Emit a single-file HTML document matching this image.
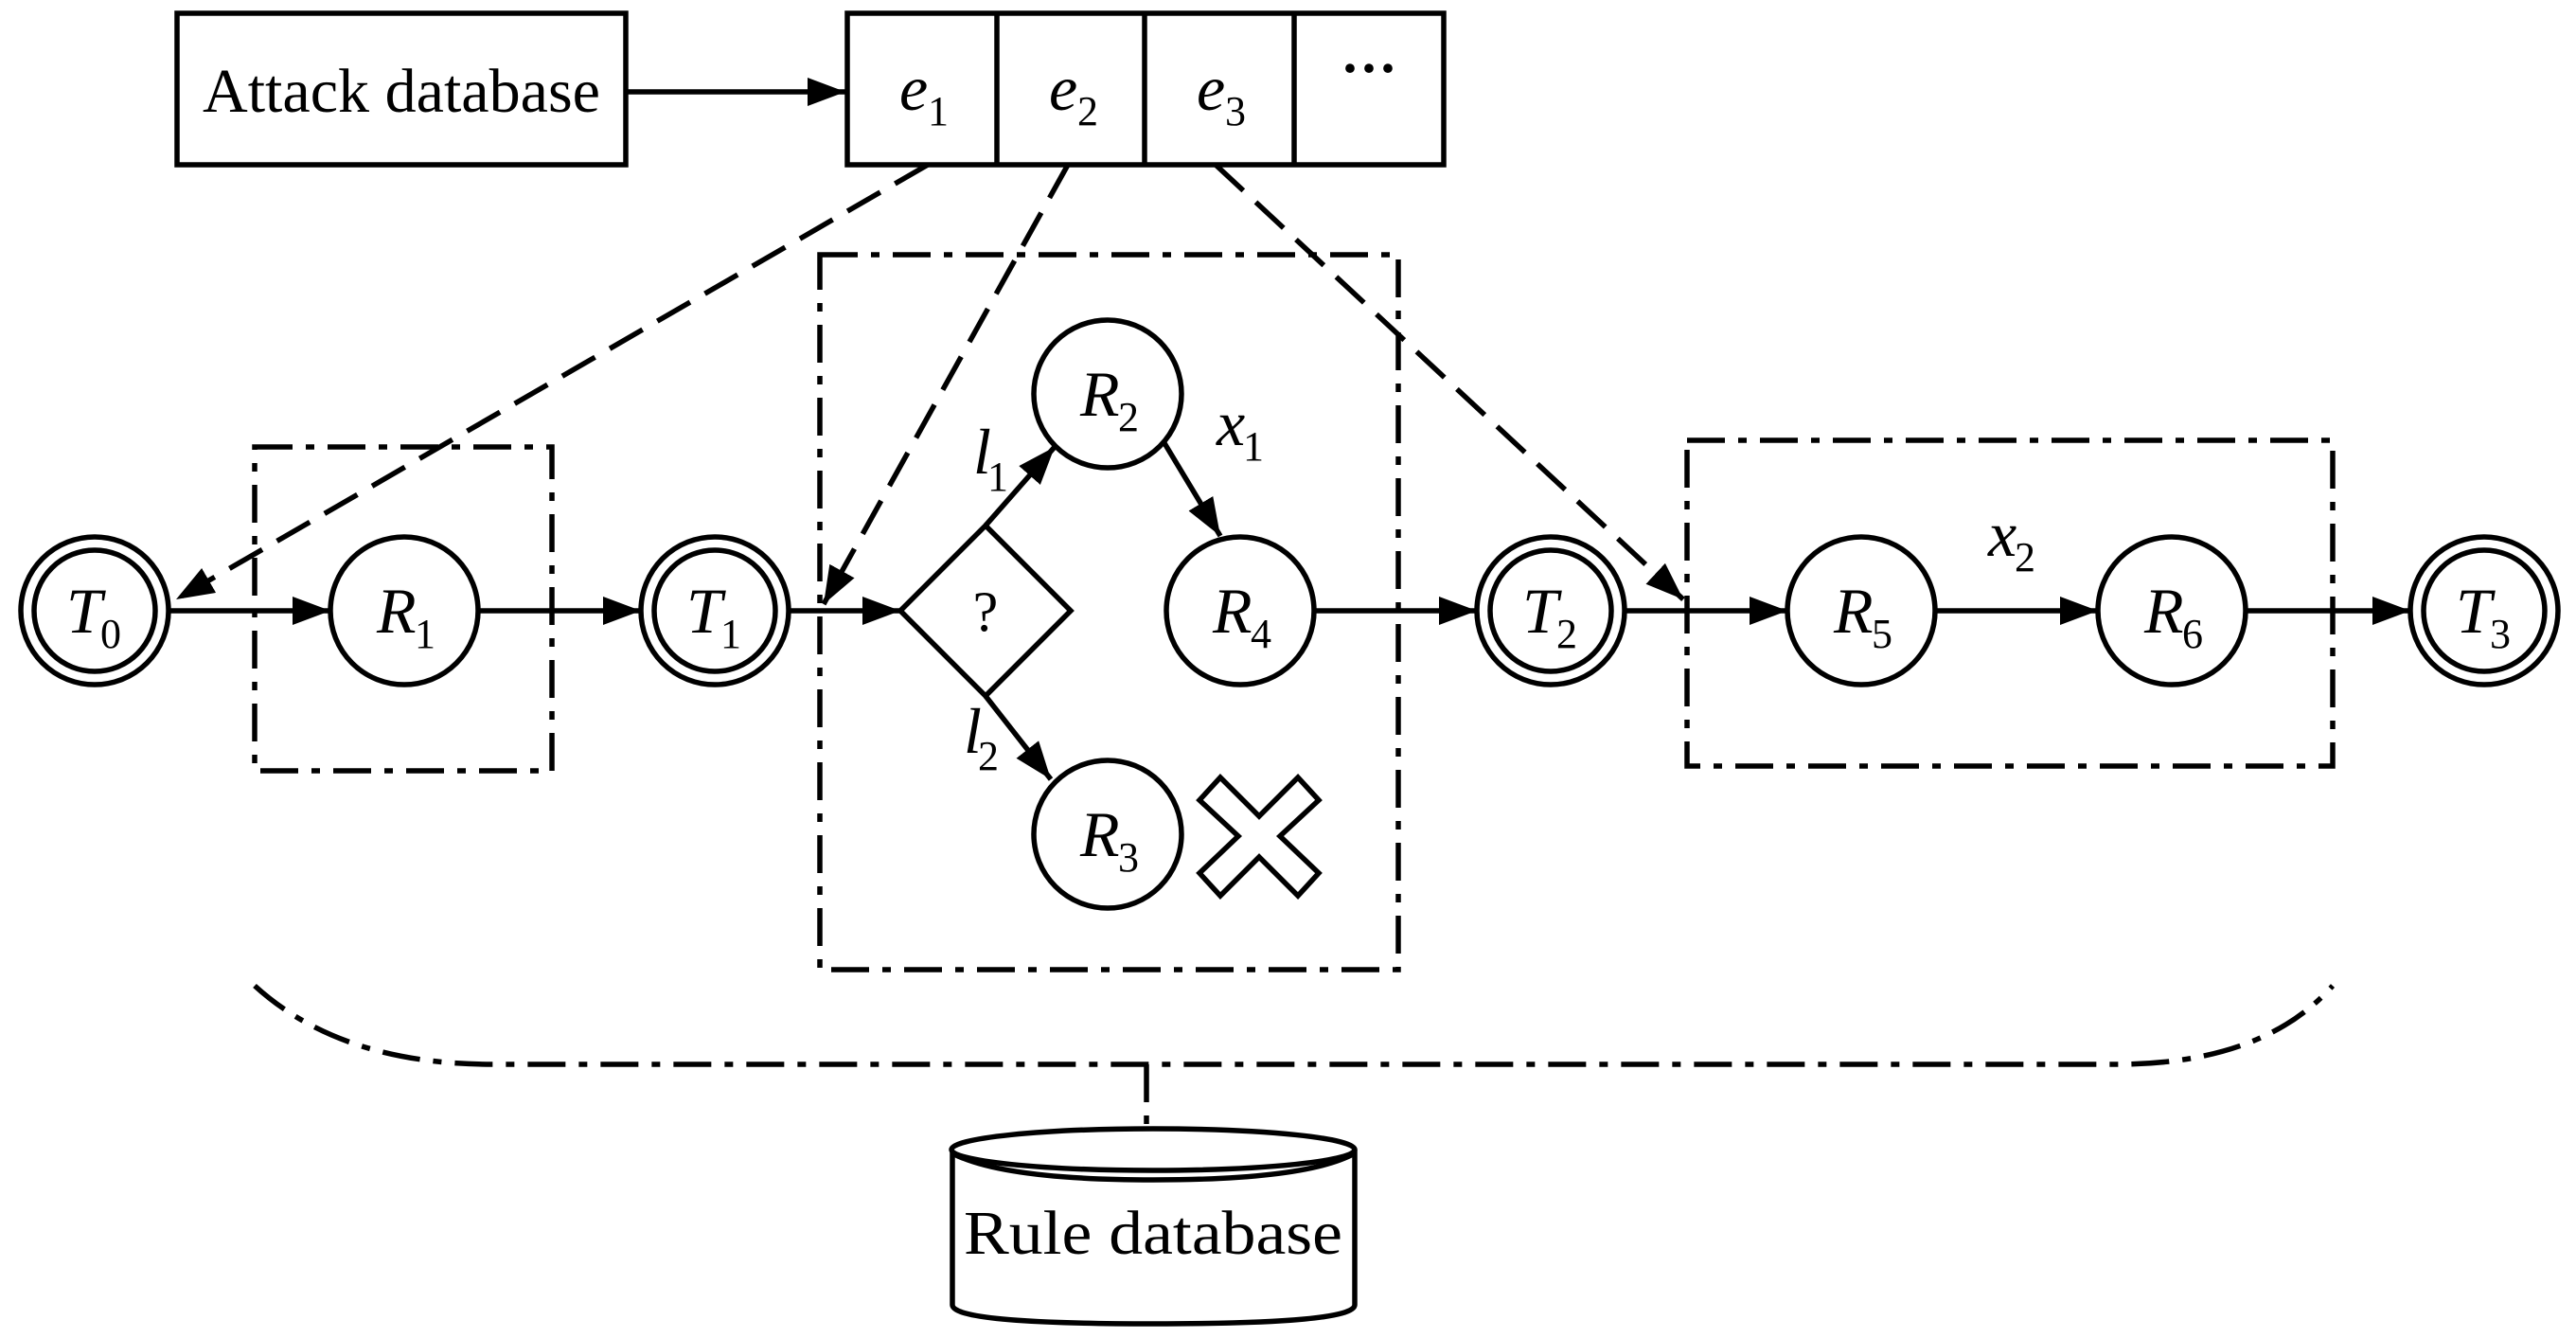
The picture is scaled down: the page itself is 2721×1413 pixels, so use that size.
<!DOCTYPE html>
<html><head><meta charset="utf-8"><style>
html,body{margin:0;padding:0;background:#fff;}
svg{display:block;}
text{font-family:"Liberation Serif",serif;fill:#000;}
</style></head><body>
<svg width="2721" height="1413" viewBox="0 0 2721 1413" xmlns="http://www.w3.org/2000/svg">
<defs>
<marker id="a" viewBox="0 0 10 10" refX="10" refY="5" markerWidth="40" markerHeight="30" markerUnits="userSpaceOnUse" orient="auto" preserveAspectRatio="none">
<path d="M0,0 L10,5 L0,10 z" fill="#000"/></marker>
</defs>
<g stroke="#000" stroke-width="5.5" fill="none">
<rect x="187" y="14" width="474" height="160"/>
<rect x="895" y="14" width="630" height="160"/>
<line x1="1053" y1="14" x2="1053" y2="174"/>
<line x1="1209" y1="14" x2="1209" y2="174"/>
<line x1="1367" y1="14" x2="1367" y2="174"/>
<line x1="661" y1="97" x2="893" y2="97" marker-end="url(#a)"/>
<g stroke-dasharray="40,14,9,14">
<rect x="269" y="472" width="314" height="342"/>
<rect x="866" y="269" width="611" height="755"/>
<rect x="1782" y="465" width="682" height="344"/>
<path d="M269,1041 Q360,1124 520,1124 L2235,1124 Q2390,1124 2464,1041"/>
<line x1="1211" y1="1124" x2="1211" y2="1200"/>
</g>
<line x1="178" y1="645" x2="349" y2="645" marker-end="url(#a)"/>
<line x1="505" y1="645" x2="677" y2="645" marker-end="url(#a)"/>
<line x1="833" y1="645" x2="951" y2="645" marker-end="url(#a)"/>
<line x1="1388" y1="645" x2="1560" y2="645" marker-end="url(#a)"/>
<line x1="1716" y1="645" x2="1888" y2="645" marker-end="url(#a)"/>
<line x1="2044" y1="645" x2="2216" y2="645" marker-end="url(#a)"/>
<line x1="2372" y1="645" x2="2546" y2="645" marker-end="url(#a)"/>
<polygon points="951,645 1041,555 1131,645 1041,735" fill="#fff"/>
<line x1="1041" y1="555" x2="1114" y2="472" marker-end="url(#a)"/>
<line x1="1041" y1="735" x2="1110" y2="823" marker-end="url(#a)"/>
<line x1="1230" y1="468" x2="1289" y2="566" marker-end="url(#a)"/>
<g fill="#fff">
<circle cx="100" cy="645" r="78"/><circle cx="100" cy="645" r="64"/>
<circle cx="427" cy="645" r="78"/>
<circle cx="755" cy="645" r="78"/><circle cx="755" cy="645" r="64"/>
<circle cx="1170" cy="416" r="78"/>
<circle cx="1310" cy="645" r="78"/>
<circle cx="1170" cy="881" r="78"/>
<circle cx="1638" cy="645" r="78"/><circle cx="1638" cy="645" r="64"/>
<circle cx="1966" cy="645" r="78"/>
<circle cx="2294" cy="645" r="78"/>
<circle cx="2624" cy="645" r="78"/><circle cx="2624" cy="645" r="64"/>
</g>
<path d="M1267,845 L1289,821 L1330,862 L1371,821 L1393,845 L1352,883 L1393,922 L1371,946 L1330,905 L1289,946 L1267,922 L1308,883 Z" fill="#fff"/>
<g stroke-dasharray="40,18">
<line x1="980" y1="174" x2="186" y2="633" marker-end="url(#a)"/>
<line x1="1128" y1="174" x2="870" y2="638" marker-end="url(#a)"/>
<line x1="1284" y1="174" x2="1778" y2="633" marker-end="url(#a)"/>
</g>
<path d="M1006,1214 L1006,1378 Q1006,1398 1218,1398 Q1431,1398 1431,1378 L1431,1214" fill="#fff"/>
<ellipse cx="1218" cy="1214" rx="213" ry="22" fill="#fff"/>
<path d="M1006,1218 Q1060,1246 1218,1246 Q1380,1246 1431,1218"/>
</g>
<g font-size="66">
<text x="424" y="118" text-anchor="middle" textLength="420" lengthAdjust="spacingAndGlyphs">Attack database</text>
<text x="1218" y="1324" text-anchor="middle" textLength="400" lengthAdjust="spacingAndGlyphs">Rule database</text>
</g>
<text x="1446" y="92" text-anchor="middle" font-size="60" font-weight="bold">···</text>
<g font-size="68" font-style="italic">
<text x="950" y="116">e</text><text x="980" y="132" font-size="44" font-style="normal">1</text>
<text x="1108" y="116">e</text><text x="1138" y="132" font-size="44" font-style="normal">2</text>
<text x="1264" y="116">e</text><text x="1294" y="132" font-size="44" font-style="normal">3</text>
<text x="70" y="668">T</text><text x="106" y="684" font-size="44" font-style="normal">0</text>
<text x="398" y="668">R</text><text x="438" y="684" font-size="44" font-style="normal">1</text>
<text x="725" y="668">T</text><text x="761" y="684" font-size="44" font-style="normal">1</text>
<text x="1141" y="439">R</text><text x="1181" y="455" font-size="44" font-style="normal">2</text>
<text x="1281" y="668">R</text><text x="1321" y="684" font-size="44" font-style="normal">4</text>
<text x="1141" y="904">R</text><text x="1181" y="920" font-size="44" font-style="normal">3</text>
<text x="1608" y="668">T</text><text x="1644" y="684" font-size="44" font-style="normal">2</text>
<text x="1937" y="668">R</text><text x="1977" y="684" font-size="44" font-style="normal">5</text>
<text x="2265" y="668">R</text><text x="2305" y="684" font-size="44" font-style="normal">6</text>
<text x="2594" y="668">T</text><text x="2630" y="684" font-size="44" font-style="normal">3</text>
<text x="1028" y="500">l</text><text x="1043" y="518" font-size="44" font-style="normal">1</text>
<text x="1018" y="795">l</text><text x="1033" y="813" font-size="44" font-style="normal">2</text>
<text x="1285" y="470">x</text><text x="1313" y="486" font-size="44" font-style="normal">1</text>
<text x="2100" y="587">x</text><text x="2128" y="603" font-size="44" font-style="normal">2</text>
</g>
<text x="1041" y="666" text-anchor="middle" font-size="60">?</text>
</svg>
</body></html>
